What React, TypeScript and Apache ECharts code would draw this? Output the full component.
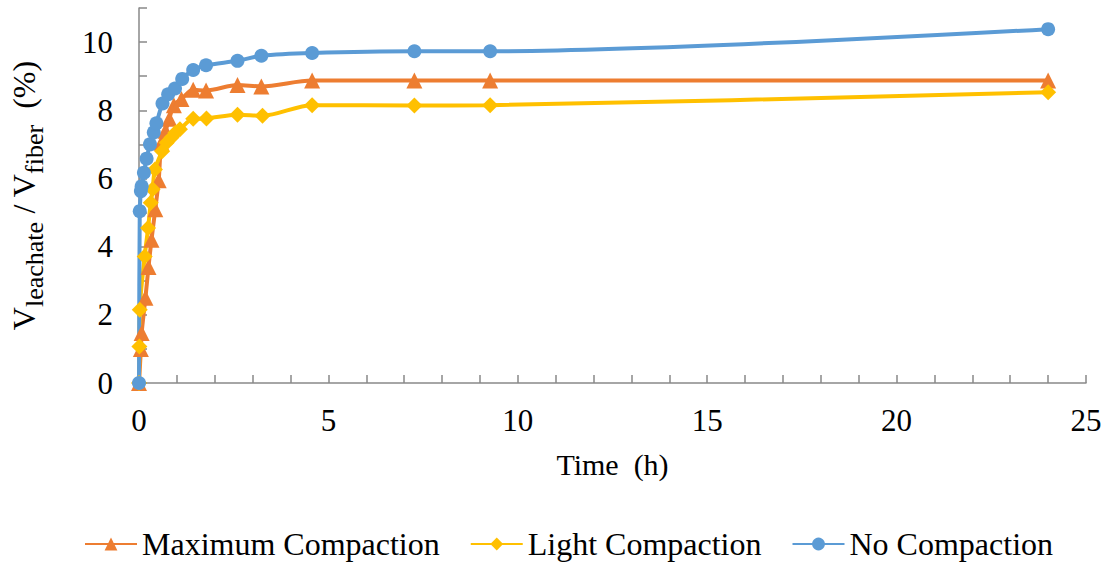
import React, { useEffect, useRef } from "react";
import * as echarts from "echarts";

// Leachate volume relative to fiber volume over time, per compaction level.
const maxCompactionTime = [0, 0.05, 0.07, 0.17, 0.25, 0.33, 0.43, 0.52, 0.59, 0.7, 0.8, 0.92, 1.12, 1.43, 1.77, 2.6, 3.23, 4.57, 7.27, 9.27, 24];
const maxCompactionValue = [0, 1.0, 1.47, 2.5, 3.4, 4.2, 5.1, 5.95, 7.05, 7.4, 7.75, 8.15, 8.33, 8.6, 8.58, 8.74, 8.7, 8.87, 8.87, 8.87, 8.87];

const lightCompactionTime = [0, 0.01, 0.02, 0.15, 0.24, 0.31, 0.36, 0.42, 0.61, 0.73, 0.86, 0.96, 1.08, 1.43, 1.78, 2.6, 3.26, 4.57, 7.27, 9.27, 24];
const lightCompactionValue = [0, 1.07, 2.15, 3.71, 4.55, 5.29, 5.68, 6.26, 6.8, 7.05, 7.2, 7.34, 7.44, 7.75, 7.76, 7.87, 7.84, 8.15, 8.14, 8.15, 8.53];

const noCompactionTime = [0, 0.02, 0.05, 0.07, 0.13, 0.2, 0.29, 0.39, 0.46, 0.62, 0.77, 0.95, 1.14, 1.43, 1.77, 2.6, 3.23, 4.57, 7.27, 9.27, 24];
const noCompactionValue = [0, 5.04, 5.63, 5.77, 6.17, 6.58, 7.0, 7.35, 7.62, 8.2, 8.47, 8.64, 8.92, 9.18, 9.32, 9.45, 9.6, 9.68, 9.73, 9.73, 10.38];

const seriesNames = ["Maximum Compaction", "Light Compaction", "No Compaction"];
const seriesColors = ["#ED7D31", "#FFC000", "#5B9BD5"];

const pairs = (t: number[], v: number[]) => t.map((x, i) => [x, v[i]]);

const FONT = "Liberation Serif";
const AXIS_GRAY = "#898989";
const tickRich = { t: { fontFamily: FONT, fontSize: 31, color: "#000" } };

export default function App() {
  const ref = useRef<HTMLDivElement>(null);

  useEffect(() => {
    if (!ref.current) return;
    const chart = echarts.init(ref.current, undefined, { renderer: "svg" });

    const lineSeries = (name: string, color: string, data: number[][], symbol: string, size: number) => ({
      name,
      type: "line",
      data,
      smooth: 0.3,
      symbol,
      symbolSize: size,
      showAllSymbol: true,
      lineStyle: { color, width: 4 },
      itemStyle: { color },
    });

    chart.setOption({
      animation: false,
      textStyle: { fontFamily: FONT },
      grid: { left: 134, right: 27, top: 8, bottom: 179, containLabel: false },
      xAxis: {
        type: "value",
        min: 0,
        max: 25,
        interval: 1,
        name: "Time  (h)",
        nameLocation: "middle",
        nameGap: 66,
        nameTextStyle: { fontFamily: FONT, fontSize: 30, color: "#000" },
        axisLine: { lineStyle: { color: AXIS_GRAY, width: 1.5 } },
        axisTick: { inside: true, length: 8, lineStyle: { color: AXIS_GRAY, width: 1.5 } },
        axisLabel: {
          formatter: (v: number) => (v % 5 === 0 ? `{t|${v}}` : ""),
          fontFamily: FONT,
          fontSize: 31,
          color: "#000",
          margin: 22,
          rich: tickRich,
        },
        splitLine: { show: false },
      },
      yAxis: {
        type: "value",
        min: 0,
        max: 11,
        interval: 1,
        name: "{m|V}{s|leachate}{m| / V}{s|fiber}{m|  (%)}",
        nameLocation: "middle",
        nameRotate: 90,
        nameGap: 92,
        nameTextStyle: {
          fontFamily: FONT,
          color: "#000",
          rich: {
            m: { fontFamily: FONT, fontSize: 32, lineHeight: 36, padding: [0, 0, 7, 0], verticalAlign: "bottom", color: "#000" },
            s: { fontFamily: FONT, fontSize: 26, lineHeight: 30, verticalAlign: "bottom", color: "#000" },
          },
        },
        axisLine: { show: true, lineStyle: { color: AXIS_GRAY, width: 1.5 } },
        axisTick: { show: true, inside: true, length: 8, lineStyle: { color: AXIS_GRAY, width: 1.5 } },
        axisLabel: {
          formatter: (v: number) => (v % 2 === 0 ? `{t|${v}}` : ""),
          fontFamily: FONT,
          fontSize: 31,
          color: "#000",
          margin: 26,
          rich: tickRich,
        },
        splitLine: { show: false },
      },
      legend: {
        data: seriesNames,
        left: 79,
        top: 522,
        itemWidth: 52,
        itemHeight: 16,
        itemGap: 30,
        textStyle: { fontFamily: FONT, fontSize: 32, lineHeight: 34, color: "#000" },
      },
      series: [
        lineSeries(seriesNames[0], seriesColors[0], pairs(maxCompactionTime, maxCompactionValue), "triangle", 16),
        lineSeries(seriesNames[1], seriesColors[1], pairs(lightCompactionTime, lightCompactionValue), "diamond", 16),
        lineSeries(seriesNames[2], seriesColors[2], pairs(noCompactionTime, noCompactionValue), "circle", 14),
      ],
    });

    return () => chart.dispose();
  }, []);

  return <div ref={ref} style={{ width: 1113, height: 562, position: "absolute", left: 0, top: 0 }} />;
}
